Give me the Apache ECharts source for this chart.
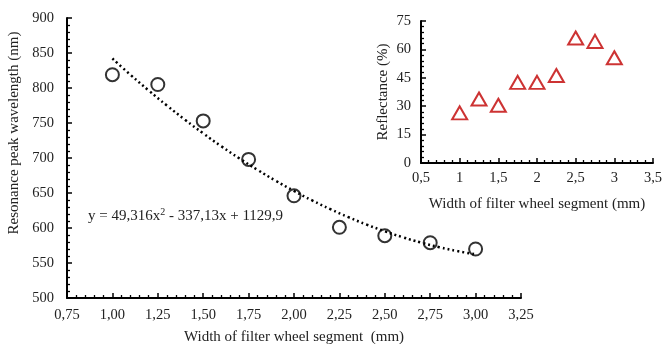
<!DOCTYPE html>
<html><head><meta charset="utf-8">
<script src="https://cdn.jsdelivr.net/npm/echarts@6/dist/echarts.min.js"></script>
<style>html,body{margin:0;padding:0;background:#fff}#c{width:663px;height:344px}</style>
</head><body><div id="c"></div>
<script>
// Main chart: resonance peak wavelength
const widths = [1.00, 1.25, 1.50, 1.75, 2.00, 2.25, 2.50, 2.75, 3.00];
const wavelength = [819, 805, 753, 698, 646, 601, 589, 579, 570];
// Trendline values read from the printed fit y = 49,316x² - 337,13x + 1129,9
const trendX = [1.0,1.1,1.2,1.3,1.4,1.5,1.6,1.7,1.8,1.9,2.0,2.1,2.2,2.3,2.4,2.5,2.6,2.7,2.8,2.9,3.0];
const trendY = [842.1,818.7,796.4,775.0,754.6,735.2,716.7,699.3,682.9,667.4,652.9,639.4,626.9,615.4,604.9,595.3,586.7,579.2,572.6,567.0,562.4];
// Inset: reflectance
const reflectance = [26.5, 33.8, 30.5, 42.6, 42.6, 46.2, 66.0, 64.2, 55.6];
const mainXTicks = [0.75, 3.25];
const mainYTicks = [500, 900];
const insetXTicks = [0.5, 3.5];
const insetYTicks = [0, 75];

const font = 'Liberation Serif';
const txt = {fontFamily: font, fontSize: 14.5, color: '#222'};
function axisCommon(extra) {
  return Object.assign({
    axisLine: {show: true, onZero: false, lineStyle: {color: '#000', width: 2}},
    axisTick: {show: true, inside: true, length: 5, lineStyle: {color: '#000', width: 1.5}},
    minorTick: {show: true, splitNumber: 5, length: 3, lineStyle: {color: '#000', width: 1.3}},
    splitLine: {show: false},
    nameTextStyle: {fontFamily: font, fontSize: 15, color: '#222'},
  }, extra);
}
const chart = echarts.init(document.getElementById('c'));
chart.setOption({
  animation: false,
  backgroundColor: '#fff',
  grid: [
    {left: 67, right: 142, top: 18, bottom: 46, containLabel: false, outerBoundsMode: 'none'},
    {left: 421, right: 10, top: 21, height: 142, containLabel: false, outerBoundsMode: 'none'}
  ],
  xAxis: [
    axisCommon({gridIndex: 0, type: 'value', min: mainXTicks[0], max: mainXTicks[1], interval: 0.25,
      name: 'Width of filter wheel segment  (mm)', nameLocation: 'middle', nameGap: 32,
      axisLabel: Object.assign({margin: 10, formatter: v => v.toFixed(2).replace('.', ',')}, txt)}),
    axisCommon({gridIndex: 1, type: 'value', min: insetXTicks[0], max: insetXTicks[1], interval: 0.5,
      name: 'Width of filter wheel segment (mm)', nameLocation: 'middle', nameGap: 34,
      axisLabel: Object.assign({margin: 8, formatter: v => String(v).replace('.', ',')}, txt)})
  ],
  yAxis: [
    axisCommon({gridIndex: 0, type: 'value', min: mainYTicks[0], max: mainYTicks[1], interval: 50,
      name: 'Resonance peak wavelength (nm)', nameLocation: 'middle', nameGap: 41,
      nameTextStyle: {fontFamily: font, fontSize: 15, color: '#222', padding: [0, 0, 0, 50]},
      axisLabel: Object.assign({margin: 13}, txt)}),
    axisCommon({gridIndex: 1, type: 'value', min: insetYTicks[0], max: insetYTicks[1], interval: 15,
      name: 'Reflectance (%)', nameLocation: 'middle', nameGap: 30,
      axisLabel: Object.assign({margin: 10}, txt)})
  ],
  graphic: [{
    type: 'text', left: 88, top: 207,
    style: {
      text: '{a|y = 49,316x}{s|2}{a| - 337,13x + 1129,9}',
      rich: {
        a: {fontFamily: font, fontSize: 15, fill: '#222'},
        s: {fontFamily: font, fontSize: 10, fill: '#222', verticalAlign: 'top', padding: [0, 0, 8, 0]}
      }
    }
  }],
  series: [
    {type: 'line', xAxisIndex: 0, yAxisIndex: 0, data: trendX.map((x, i) => [x, trendY[i]]),
      showSymbol: false, smooth: true, lineStyle: {color: '#000', width: 2.5, type: [2, 3]}, z: 2},
    {type: 'scatter', xAxisIndex: 0, yAxisIndex: 0, data: widths.map((x, i) => [x, wavelength[i]]),
      symbol: 'circle', symbolSize: 13, itemStyle: {color: 'rgba(255,255,255,0)', borderColor: '#000', borderWidth: 2}, z: 3},
    {type: 'scatter', xAxisIndex: 1, yAxisIndex: 1, data: widths.map((x, i) => [x, reflectance[i]]),
      symbol: 'triangle', symbolSize: [15, 13], itemStyle: {color: 'rgba(255,255,255,0)', borderColor: '#c00000', borderWidth: 2}, z: 3}
  ]
});
</script></body></html>
